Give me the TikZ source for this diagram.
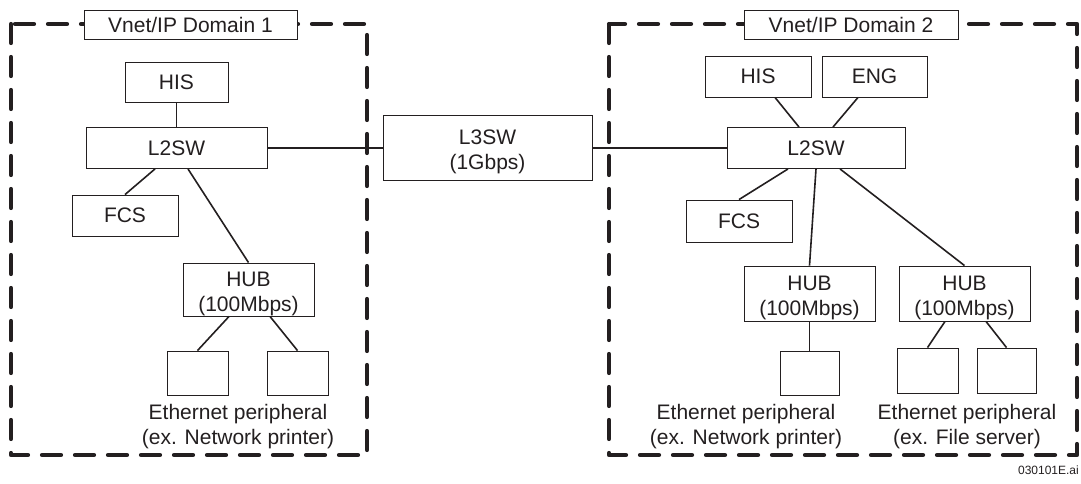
\documentclass[tikz,border=0pt]{standalone}
\usepackage{fontspec}
\setmainfont{Liberation Sans}
\usetikzlibrary{calc}
\definecolor{ink}{HTML}{231F20}
\newcommand\lowerstrut{\rule{0pt}{23pt}}
\tikzset{
  box/.style={draw=ink, line width=0.9pt, fill=white, inner sep=0pt, text=ink,
    font=\fontsize{21}{25}\selectfont, align=center},
  wire/.style={draw=ink, line width=1.6pt},
  domainframe/.style={draw=ink, line width=4.2pt, line cap=round, line join=round,
    dash pattern=on 19pt off 14pt},
  lbl/.style={text=ink, font=\fontsize{21}{25}\selectfont, align=center, inner sep=0pt}
}
\begin{document}
\begin{tikzpicture}[x=1pt,y=-1pt]
\useasboundingbox (0,0) rectangle (1081,484);
% domains
\draw[domainframe] (11,24) rectangle (367,455);
\draw[domainframe] (609,24) rectangle (1077,455);
\node[box, minimum width=213pt, minimum height=29pt] (lab1) at (190.5,24.5) {Vnet/IP Domain 1};
\node[box, minimum width=214pt, minimum height=29pt] (lab2) at (851,24.5) {Vnet/IP Domain 2};
% domain 1
\node[box, minimum width=103pt, minimum height=40pt] (his1) at (176.5,82) {HIS};
\node[box, minimum width=181pt, minimum height=41pt] (sw1) at (176.5,148) {L2SW};
\node[box, minimum width=106pt, minimum height=41pt] (fcs1) at (125,215.5) {FCS};
\node[box, minimum width=131pt, minimum height=53pt] (hub1) at (248.5,289.5) {\lowerstrut HUB\\(100Mbps)};
\node[box, minimum width=61pt, minimum height=44pt] (p1a) at (197.5,373) {};
\node[box, minimum width=61pt, minimum height=44pt] (p1b) at (297.5,373) {};
\node[lbl] (t1) at (238,426.5) {Ethernet peripheral\\(ex. Network printer)};
% L3SW
\node[box, minimum width=209pt, minimum height=65pt] (l3) at (487.5,148) {\lowerstrut L3SW\\(1Gbps)};
% domain 2
\node[box, minimum width=106pt, minimum height=41pt] (his2) at (758,76.5) {HIS};
\node[box, minimum width=105pt, minimum height=41pt] (eng) at (874.5,76.5) {ENG};
\node[box, minimum width=178pt, minimum height=41pt] (sw2) at (816,148) {L2SW};
\node[box, minimum width=106pt, minimum height=42pt] (fcs2) at (739,221) {FCS};
\node[box, minimum width=131pt, minimum height=55pt] (hub2a) at (809.5,293.5) {\lowerstrut HUB\\(100Mbps)};
\node[box, minimum width=131pt, minimum height=55pt] (hub2b) at (964.5,293.5) {\lowerstrut HUB\\(100Mbps)};
\node[box, minimum width=59pt, minimum height=44pt] (p2a) at (809.5,373) {};
\node[box, minimum width=61pt, minimum height=45pt] (p2b1) at (927.5,370.5) {};
\node[box, minimum width=59pt, minimum height=45pt] (p2b2) at (1006.5,370.5) {};
\node[lbl] (t2) at (746,426.5) {Ethernet peripheral\\(ex. Network printer)};
\node[lbl] (t3) at (967,426.5) {Ethernet peripheral\\(ex. File server)};
\node[text=ink, font=\fontsize{12}{14}\selectfont, anchor=east, inner sep=0pt] (foot) at (1079,470) {030101E.ai};
% wires domain 1
\draw[wire] (his1.south) -- (sw1.north);
\draw[wire] ([xshift=-21.5pt]sw1.south) -- (fcs1.north);
\draw[wire] ([xshift=11.5pt]sw1.south) -- (hub1.north);
\draw[wire] ([xshift=-19.5pt]hub1.south) -- (p1a.north);
\draw[wire] ([xshift=21.5pt]hub1.south) -- (p1b.north);
\draw[wire] (sw1.east) -- (l3.west);
\draw[wire] (l3.east) -- (sw2.west);
% wires domain 2
\draw[wire] ([xshift=17pt]his2.south) -- ([xshift=-17pt]sw2.north);
\draw[wire] ([xshift=-16.5pt]eng.south) -- ([xshift=17pt]sw2.north);
\draw[wire] ([xshift=-28pt]sw2.south) -- (fcs2.north);
\draw[wire] (sw2.south) -- (hub2a.north);
\draw[wire] ([xshift=24pt]sw2.south) -- (hub2b.north);
\draw[wire] (hub2a.south) -- (p2a.north);
\draw[wire] ([xshift=-19.5pt]hub2b.south) -- (p2b1.north);
\draw[wire] ([xshift=21.5pt]hub2b.south) -- (p2b2.north);
\end{tikzpicture}
\end{document}
